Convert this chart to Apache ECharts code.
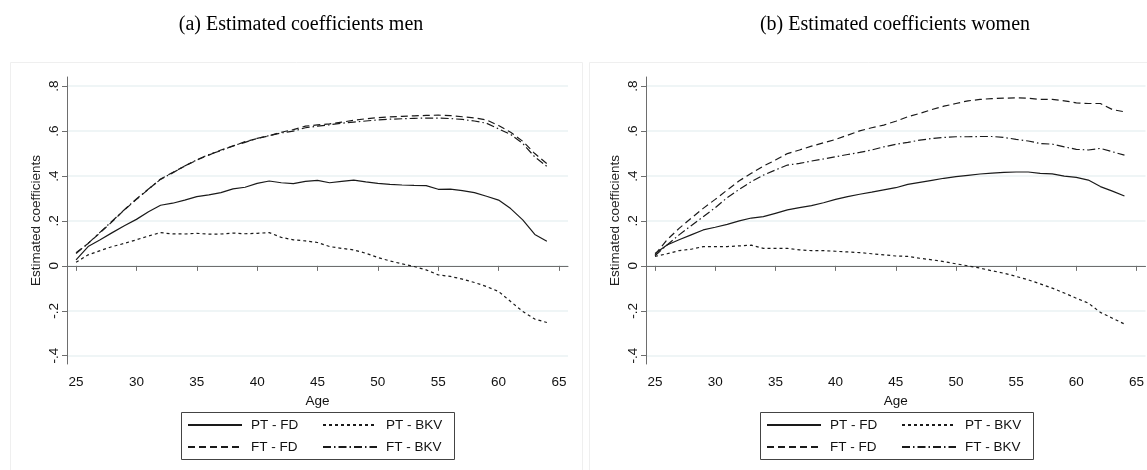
<!DOCTYPE html>
<html>
<head>
<meta charset="utf-8">
<script src="https://cdn.jsdelivr.net/npm/echarts@6/dist/echarts.min.js"></script>
<style>html,body{margin:0;padding:0;background:#fff}#c{width:1147px;height:470px}</style>
</head>
<body>
<div id="c"></div>
<script>
// ---- data ----
const ages = [25,26,27,28,29,30,31,32,33,34,35,36,37,38,39,40,41,42,43,44,45,46,47,48,49,50,51,52,53,54,55,56,57,58,59,60,61,62,63,64];
const xTicks = [25,30,35,40,45,50,55,60,65];
const yTicks = [-0.4,-0.2,0,0.2,0.4,0.6,0.8];
const yTickLabels = ['-.4','-.2','0','.2','.4','.6','.8'];
const seriesNames = ['PT - FD','PT - BKV','FT - FD','FT - BKV'];
const legendColumns = [['PT - FD','FT - FD'], ['PT - BKV','FT - BKV']];
const panelTitles = ['(a) Estimated coefficients men','(b) Estimated coefficients women'];

const menPTFD = [0.027,0.086,0.116,0.148,0.179,0.207,0.241,0.270,0.279,0.293,0.308,0.316,0.326,0.343,0.350,0.367,0.378,0.370,0.366,0.376,0.381,0.370,0.376,0.382,0.374,0.367,0.363,0.360,0.358,0.357,0.341,0.342,0.335,0.326,0.310,0.293,0.255,0.205,0.140,0.110];
const menPTBKV = [0.016,0.049,0.068,0.086,0.100,0.116,0.133,0.148,0.142,0.142,0.145,0.141,0.142,0.146,0.143,0.145,0.148,0.127,0.116,0.111,0.104,0.086,0.078,0.071,0.056,0.037,0.022,0.009,-0.003,-0.018,-0.040,-0.047,-0.059,-0.074,-0.092,-0.114,-0.159,-0.203,-0.237,-0.252];
const menFTFD = [0.059,0.100,0.148,0.197,0.249,0.296,0.341,0.387,0.416,0.444,0.471,0.493,0.516,0.533,0.553,0.567,0.579,0.595,0.607,0.622,0.628,0.632,0.640,0.648,0.655,0.660,0.663,0.666,0.668,0.670,0.671,0.669,0.664,0.659,0.650,0.625,0.595,0.555,0.500,0.455];
const menFTBKV = [0.055,0.100,0.150,0.200,0.250,0.298,0.342,0.385,0.414,0.445,0.472,0.496,0.513,0.535,0.550,0.568,0.580,0.592,0.600,0.615,0.622,0.628,0.635,0.640,0.645,0.650,0.653,0.655,0.657,0.658,0.658,0.656,0.652,0.645,0.635,0.610,0.585,0.545,0.485,0.443];

const womenPTFD = [0.055,0.093,0.116,0.138,0.160,0.172,0.185,0.200,0.213,0.219,0.234,0.249,0.259,0.268,0.281,0.296,0.308,0.319,0.328,0.338,0.348,0.363,0.372,0.381,0.390,0.397,0.403,0.409,0.413,0.416,0.418,0.418,0.412,0.410,0.400,0.394,0.382,0.353,0.333,0.311];
const womenPTBKV = [0.042,0.054,0.068,0.074,0.086,0.086,0.086,0.089,0.092,0.078,0.078,0.078,0.071,0.068,0.068,0.065,0.062,0.059,0.054,0.049,0.044,0.042,0.034,0.027,0.019,0.009,0.000,-0.010,-0.022,-0.033,-0.047,-0.062,-0.080,-0.099,-0.121,-0.144,-0.166,-0.207,-0.233,-0.259];
const womenFTFD = [0.050,0.116,0.167,0.212,0.256,0.296,0.338,0.379,0.412,0.444,0.471,0.500,0.516,0.533,0.548,0.563,0.582,0.601,0.615,0.627,0.644,0.664,0.679,0.696,0.711,0.723,0.735,0.741,0.745,0.747,0.748,0.747,0.741,0.741,0.735,0.726,0.723,0.723,0.696,0.686];
const womenFTBKV = [0.045,0.093,0.138,0.179,0.219,0.259,0.304,0.341,0.375,0.404,0.427,0.449,0.456,0.467,0.476,0.486,0.496,0.505,0.516,0.530,0.541,0.550,0.560,0.567,0.572,0.575,0.575,0.576,0.576,0.572,0.563,0.556,0.545,0.542,0.530,0.519,0.516,0.523,0.508,0.493];

// ---- styling ----
const SANS = '"Liberation Sans", Arial, sans-serif';
const SERIF = '"Liberation Serif", "Times New Roman", serif';
const LINE_COLOR = '#1a1a1a';
const dashTypes = ['solid', [3,3], [7,4], [8,3,1.5,3]];
const panels = [
  { data: [menPTFD, menPTBKV, menFTFD, menFTBKV], gridLeft: 67, gridWidth: 501, titleX: 296, legendLeft: 181 },
  { data: [womenPTFD, womenPTBKV, womenFTFD, womenFTBKV], gridLeft: 646, gridWidth: 500.5, titleX: 890, legendLeft: 760 }
];

const pairs = d => ages.map((a, i) => [a, d[i]]);

const legends = [];
const graphics = [
  { type: 'rect', shape: { x: 10.5, y: 62.5, width: 572, height: 420 }, style: { fill: null, stroke: '#efefef', lineWidth: 1 }, silent: true, z: -10 },
  { type: 'rect', shape: { x: 589.5, y: 62.5, width: 600, height: 420 }, style: { fill: null, stroke: '#efefef', lineWidth: 1 }, silent: true, z: -10 }
];
panels.forEach(p => {
  graphics.push({ type: 'rect', shape: { x: p.legendLeft + 0.5, y: 412.5, width: 273, height: 47 },
    style: { fill: null, stroke: '#444', lineWidth: 1 }, silent: true });
  legendColumns.forEach((col, ci) => {
    legends.push({
      data: col, left: p.legendLeft + (ci === 0 ? 6 : 141), top: 418, orient: 'vertical',
      padding: 0, itemGap: 8, itemWidth: 54, itemHeight: 14,
      selectedMode: false,
      itemStyle: { opacity: 0 },
      textStyle: { fontFamily: SANS, fontSize: 13.5, color: '#111', padding: [0, 0, 0, 4] }
    });
  });
});

const option = {
  animation: false,
  backgroundColor: '#ffffff',
  title: panels.map((p, i) => ({
    text: panelTitles[i], left: p.titleX, top: 10, textAlign: 'center',
    textStyle: { fontFamily: SERIF, fontSize: 20, fontWeight: 'normal', color: '#000' }
  })),
  graphic: graphics,
  grid: panels.map(p => ({ left: p.gridLeft, top: 77, width: p.gridWidth, height: 287, containLabel: false })),
  xAxis: panels.map((p, i) => ({
    type: 'value', gridIndex: i, min: 24.25, max: 65.75,
    name: 'Age', nameLocation: 'middle', nameGap: 25,
    nameTextStyle: { fontFamily: SANS, fontSize: 13.5, color: '#111' },
    axisLine: { show: true, lineStyle: { color: '#6e6e6e', width: 1 } },
    axisTick: { show: true, length: 5, customValues: xTicks, lineStyle: { color: '#6e6e6e' } },
    axisLabel: { customValues: xTicks, margin: 11, fontFamily: SANS, fontSize: 13.5, color: '#111' },
    splitLine: { show: false }
  })),
  yAxis: panels.map((p, i) => ({
    type: 'value', gridIndex: i, min: -0.437, max: 0.841,
    name: 'Estimated coefficients', nameLocation: 'middle', nameGap: 24,
    nameTextStyle: { fontFamily: SANS, fontSize: 13.5, color: '#222' },
    axisLine: { show: true, lineStyle: { color: '#6e6e6e', width: 1 } },
    axisTick: { show: true, length: 5, customValues: yTicks, lineStyle: { color: '#6e6e6e' } },
    axisLabel: {
      customValues: yTicks, rotate: 90, margin: 6, fontFamily: SANS, fontSize: 13.5, color: '#111',
      formatter: v => { const k = yTicks.findIndex(t => Math.abs(t - v) < 1e-6); return k >= 0 ? yTickLabels[k] : ''; }
    },
    splitLine: { show: true, lineStyle: { color: '#eaf2f3', width: 1.5 } }
  })),
  legend: legends,
  series: []
};

panels.forEach((p, pi) => {
  p.data.forEach((d, si) => {
    option.series.push({
      type: 'line', name: seriesNames[si], xAxisIndex: pi, yAxisIndex: pi,
      data: pairs(d), symbol: 'none', smooth: false,
      lineStyle: { color: LINE_COLOR, width: 1.2, type: dashTypes[si] },
      itemStyle: { color: LINE_COLOR },
      emphasis: { disabled: true }
    });
  });
});

const chart = echarts.init(document.getElementById('c'), null, { renderer: 'canvas' });
chart.setOption(option);
</script>
</body>
</html>
